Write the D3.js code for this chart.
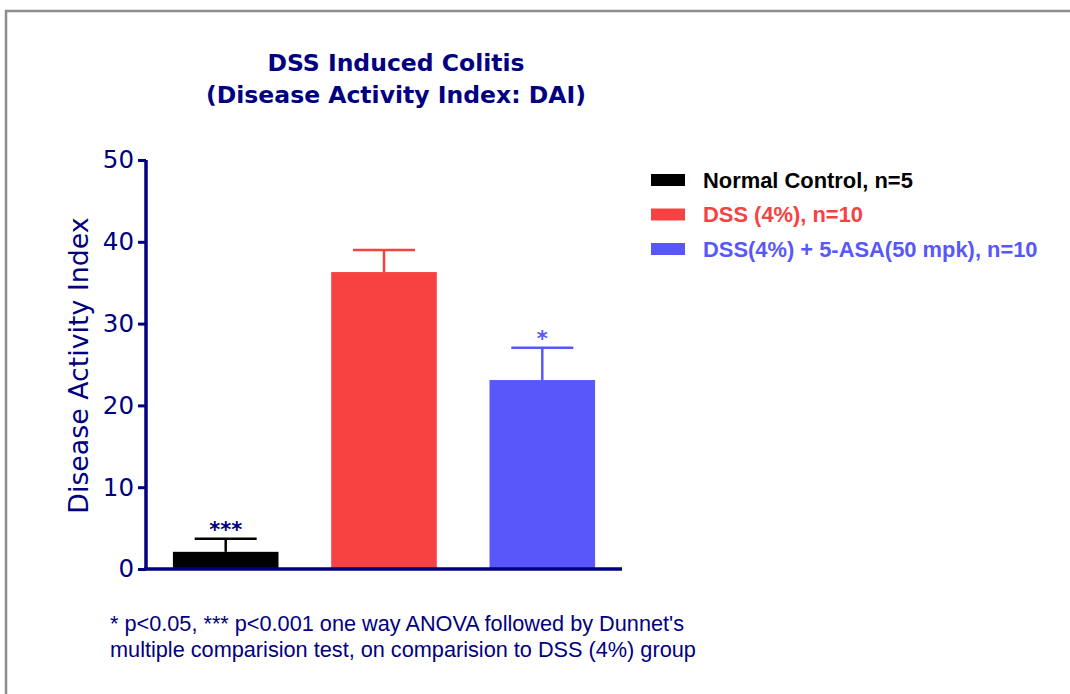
<!DOCTYPE html>
<html>
<head>
<meta charset="utf-8">
<script src="https://cdn.jsdelivr.net/npm/d3@7"></script>
<style>
  body { margin: 0; background: #fff; }
  svg { display: block; }
</style>
</head>
<body>
<div id="chart"></div>
<script>
// data
const groups = ['Normal Control, n=5', 'DSS (4%), n=10', 'DSS(4%) + 5-ASA(50 mpk), n=10'];
const means = [2.1, 36.3, 23.1];
const sems = [1.6, 2.7, 3.95];
const stars = ['***', '', '*'];
const colors = ['#000000', '#f84242', '#5858fa'];
const yTicks = [0, 10, 20, 30, 40, 50];
const navy = '#000080';

const width = 1070, height = 694;
const svg = d3.select('#chart').append('svg')
    .attr('width', width)
    .attr('height', height);

// grey frame (runs off the right and bottom edge)
svg.append('rect')
    .attr('x', 6).attr('y', 11)
    .attr('width', 1100).attr('height', 720)
    .attr('fill', 'none')
    .attr('stroke', '#8c8c8c')
    .attr('stroke-width', 2.5);

const x = d3.scaleBand()
    .domain(groups)
    .range([146, 622])
    .paddingInner(0.333)
    .paddingOuter(0.17);

const y = d3.scaleLinear()
    .domain([0, 50])
    .range([569, 160]);

const verdana = 'Verdana, "DejaVu Sans", sans-serif';
const arial = 'Arial, "Liberation Sans", sans-serif';

// title
const title = svg.append('text')
    .attr('text-anchor', 'middle')
    .attr('fill', navy)
    .style('font-family', verdana)
    .style('font-weight', 'bold')
    .style('font-size', '23.5px');
title.append('tspan').attr('x', 396).attr('y', 71).text('DSS Induced Colitis');
title.append('tspan').attr('x', 396).attr('y', 103).text('(Disease Activity Index: DAI)');

// bars
svg.append('g').selectAll('rect')
    .data(groups)
    .join('rect')
    .attr('x', d => x(d))
    .attr('y', (d, i) => y(means[i]))
    .attr('width', x.bandwidth())
    .attr('height', (d, i) => y(0) - y(means[i]))
    .attr('fill', (d, i) => colors[i]);

// error bars (upper only)
const err = svg.append('g');
groups.forEach((g, i) => {
    const cx = x(g) + x.bandwidth() / 2;
    const top = y(means[i] + sems[i]);
    err.append('line')
        .attr('x1', cx).attr('x2', cx)
        .attr('y1', y(means[i])).attr('y2', top)
        .attr('stroke', colors[i]).attr('stroke-width', 2.5);
    err.append('line')
        .attr('x1', cx - 31).attr('x2', cx + 31)
        .attr('y1', top).attr('y2', top)
        .attr('stroke', colors[i]).attr('stroke-width', 2.5);
    if (stars[i]) {
        err.append('text')
            .attr('x', cx)
            .attr('y', top - 2)
            .attr('text-anchor', 'middle')
            .attr('fill', i === 0 ? navy : colors[i])
            .style('font-family', verdana)
            .style('font-weight', 'bold')
            .style('font-size', '21px')
            .text(stars[i]);
    }
});

// y axis
const yAxis = svg.append('g')
    .attr('transform', 'translate(146,0)')
    .call(d3.axisLeft(y).tickValues(yTicks).tickSize(8).tickPadding(4));
yAxis.select('.domain').attr('stroke', navy).attr('stroke-width', 3.5)
    .attr('d', `M0,${y(50)}V${y(0)}`);
yAxis.selectAll('.tick line').attr('stroke', navy).attr('stroke-width', 3);
yAxis.selectAll('.tick text')
    .attr('fill', navy)
    .style('font-family', verdana)
    .style('font-size', '24.5px');

// x axis line
svg.append('line')
    .attr('x1', 144).attr('x2', 622)
    .attr('y1', y(0)).attr('y2', y(0))
    .attr('stroke', navy).attr('stroke-width', 3.5);

// y axis label
svg.append('text')
    .attr('transform', `translate(88,${(y(0) + y(50)) / 2 + 1}) rotate(-90)`)
    .attr('text-anchor', 'middle')
    .attr('fill', navy)
    .style('font-family', verdana)
    .style('font-size', '26.8px')
    .text('Disease Activity Index');

// legend
const legend = svg.append('g');
groups.forEach((g, i) => {
    const ly = 180 + i * 34.5;
    legend.append('rect')
        .attr('x', 651).attr('y', ly - 6)
        .attr('width', 34).attr('height', 12)
        .attr('fill', colors[i]);
    legend.append('text')
        .attr('x', 703).attr('y', ly + 7.5)
        .attr('fill', colors[i])
        .style('font-family', arial)
        .style('font-weight', 'bold')
        .style('font-size', '21.9px')
        .text(g);
});

// footnote
const note = svg.append('text')
    .attr('fill', navy)
    .style('font-family', arial)
    .style('font-size', '21.7px');
note.append('tspan').attr('x', 110).attr('y', 631)
    .text("* p<0.05, *** p<0.001 one way ANOVA followed by Dunnet's");
note.append('tspan').attr('x', 110).attr('y', 657)
    .text('multiple comparision test, on comparision to DSS (4%) group');
</script>
</body>
</html>
